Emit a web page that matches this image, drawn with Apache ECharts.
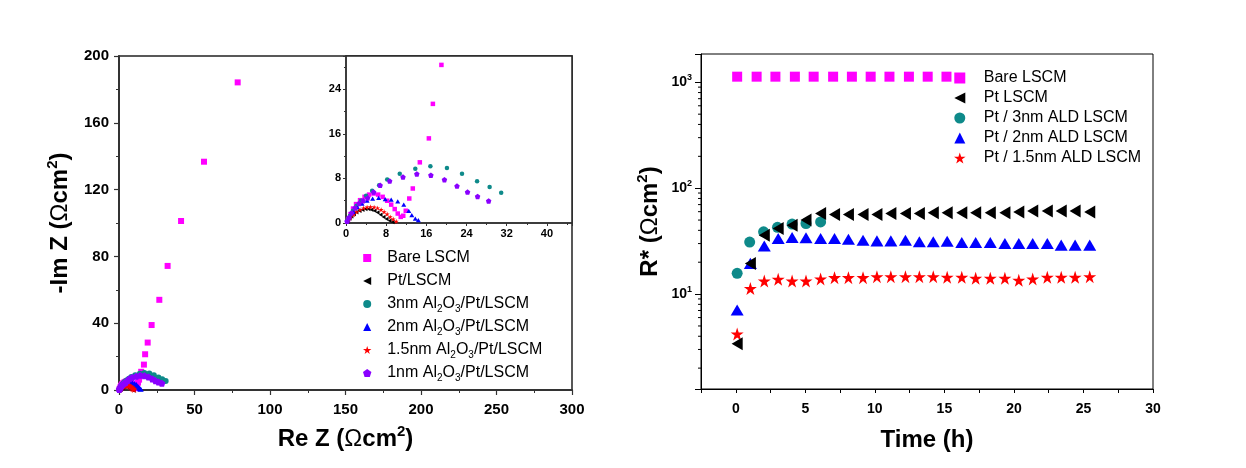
<!DOCTYPE html>
<html><head><meta charset="utf-8">
<script src="https://cdn.jsdelivr.net/npm/echarts@6/dist/echarts.min.js"></script>
<style>html,body{margin:0;padding:0;background:#fff}#c{width:1246px;height:468px}</style>
</head><body><div id="c"></div>
<script>
// ---------- Left panel: Nyquist data [Re Z, -Im Z] ----------
const nyqBare = [[0.4,0.6],[0.9,1.6],[1.4,2.6],[2.0,3.4],[2.8,4.1],[3.7,4.7],[4.6,5.1],[5.5,5.3],[6.4,5.1],[7.3,4.7],[8.2,4.0],[9.0,3.3],[9.7,2.5],[10.3,1.7],[10.9,1.1],[11.4,1.3],[11.9,2.2],[12.6,4.4],[13.3,6.2],[14.7,10.9],[16.5,15.2],[17.3,21.4],[19.0,28.4],[21.6,38.9],[26.7,54],[32.2,74.3],[41.1,101.2],[56.3,136.7],[78.6,184.2]];
const nyqPt = [[0.3,0.3],[0.7,0.8],[1.1,1.2],[1.6,1.6],[2.1,1.95],[2.7,2.2],[3.3,2.4],[3.9,2.5],[4.5,2.5],[5.1,2.4],[5.7,2.2],[6.3,1.9],[6.9,1.5],[7.5,1.1],[8.1,0.7],[8.7,0.4],[9.3,0.2]];
const nyq3nm = [[0.3,0.5],[0.8,1.3],[1.4,2.2],[2.1,3.1],[3.0,4.0],[4.0,4.9],[5.2,5.8],[6.6,6.8],[8.2,7.8],[10.7,8.85],[13.8,9.75],[16.8,10.2],[20.1,9.86],[23.1,8.85],[26.1,7.5],[28.6,6.46],[30.9,5.44]];
const nyq2nm = [[0.3,0.4],[0.8,1.2],[1.5,2.0],[2.3,2.8],[3.2,3.5],[4.2,4.0],[5.3,4.4],[6.5,4.5],[7.8,4.3],[9.0,4.2],[10.3,3.9],[11.5,3.3],[12.5,2.2],[13.1,1.4],[13.8,0.8],[14.4,0.5]];
const nyq15nm = [[0.4,0.4],[0.9,1.0],[1.5,1.5],[2.1,2.0],[2.8,2.4],[3.5,2.7],[4.2,2.85],[4.9,2.9],[5.6,2.85],[6.3,2.7],[7.0,2.4],[7.6,2.0],[8.2,1.6],[8.8,1.1],[9.4,0.7],[10.0,0.3]];
const nyq1nm = [[0.2,0.3],[0.6,1.0],[1.1,1.8],[1.8,2.7],[2.6,3.5],[3.4,4.0],[4.3,4.5],[5.5,5.56],[6.8,6.76],[8.7,7.53],[11.35,8.25],[14.1,8.8],[16.9,8.6],[19.6,7.77],[22.1,6.64],[24.2,5.56],[26.2,4.78],[28.4,3.97]];
const leftNames = ['Bare LSCM','Pt/LSCM','3nm Al2O3/Pt/LSCM','2nm Al2O3/Pt/LSCM','1.5nm Al2O3/Pt/LSCM','1nm Al2O3/Pt/LSCM'];

// ---------- Right panel: R* vs time ----------
const timeBare = [0.1,1.5,2.85,4.25,5.6,7.0,8.35,9.7,11.05,12.45,13.8,15.15];
const rBare = [1130,1130,1130,1130,1130,1130,1130,1130,1130,1130,1130,1130];
const timeAll = [0.1,1.05,2.05,3.05,4.05,5.05,6.1,7.1,8.1,9.15,10.15,11.15,12.2,13.2,14.2,15.2,16.25,17.25,18.3,19.35,20.35,21.35,22.4,23.4,24.4,25.45];
const rPt = [3.4,19.5,36,41.7,44.6,50,57.7,56.5,56.5,56.5,56.5,57.7,57.7,57.7,58.5,58.5,58.5,58.5,58.5,58.5,59.7,61,61,61,61,59.7];
const time3nm = [0.1,1.0,2.0,3.0,4.05,5.05,6.1];
const r3nm = [15.7,31,38.7,42.7,45.8,46.4,48];
const r2nm = [7.07,19.5,28.4,33.5,34.3,34,33.5,33.5,33,32.3,31.8,31.8,32.3,31.2,31.2,31.5,30.7,30.7,30.7,30,30,30,30,29,29,29];
const r15nm = [4.2,11.3,13.3,13.8,13.3,13.3,13.9,14.3,14.3,14.3,14.6,14.6,14.6,14.6,14.6,14.4,14.4,14.1,14.1,14.1,13.5,13.9,14.4,14.4,14.4,14.6];
const rightNames = ['Bare LSCM','Pt LSCM','Pt / 3nm ALD LSCM','Pt / 2nm ALD LSCM','Pt / 1.5nm ALD LSCM'];
const logMinorTicks = [2,3,4,5,6,7,8,9,20,30,40,50,60,70,80,90,200,300,400,500,600,700,800,900];

const zip = (a,b) => a.map((v,i)=>[v,b[i]]);
const FF = "'Liberation Sans', Arial, sans-serif";
const SQ = 'path://M0,0L100,0L100,100L0,100Z';
const TRI_L = 'path://M0,50L100,0L100,100Z';
const TRI_U = 'path://M50,0L100,100L0,100Z';
const CIRC = 'circle';
const STAR = 'path://M50,0L61.2,34.5L97.6,34.5L68.2,55.9L79.4,90.5L50,69.1L20.6,90.5L31.8,55.9L2.4,34.5L38.8,34.5Z';
const PENT = 'path://M50,0L97.6,34.5L79.4,90.5L20.6,90.5L2.4,34.5Z';
const C = {bare:'#ff00ff', pt:'#000000', n3:'#0e8a8a', n2:'#0000ff', n15:'#ff0000', n1:'#8a00ff'};
const sym = {bare:SQ, pt:TRI_L, n3:CIRC, n2:TRI_U, n15:STAR, n1:PENT};
const symSize = (key, s) => key==='pt' ? [s*0.85, s] : (key==='n2' ? [s, s*0.85] : s);

const titleRich = {
  b:{fontSize:24,fontWeight:'bold',fontFamily:FF,color:'#000',lineHeight:30},
  o:{fontSize:24,fontWeight:'normal',fontFamily:FF,color:'#000',lineHeight:30},
  sup:{fontSize:15,fontWeight:'bold',fontFamily:FF,color:'#000',lineHeight:15,verticalAlign:'top'}
};
const titleText = (pre) => '{b|' + pre + ' (}{o|Ω}{b|cm}{sup|2}{b|)}';
const tickLbl = (sz) => ({fontSize:sz,fontWeight:'bold',color:'#000',fontFamily:FF});

function axisBase(grid, lw, col){
  return {
    gridIndex:grid, type:'value',
    axisLine:{show:true,onZero:false,lineStyle:{color:col,width:lw}},
    axisTick:{show:true,inside:false,length:5,lineStyle:{color:col,width:1.2}},
    minorTick:{show:true,splitNumber:2,length:3,lineStyle:{color:col,width:1}},
    splitLine:{show:false}
  };
}

function nyqSeries(name, data, key, xi, size){
  return {type:'scatter', name, data, xAxisIndex:xi, yAxisIndex:xi,
    symbol:sym[key], symbolSize:symSize(key,size),
    itemStyle:{color:C[key], opacity:1}, clip:true, silent:true};
}
const leftData = [[nyqBare,'bare'],[nyqPt,'pt'],[nyq3nm,'n3'],[nyq2nm,'n2'],[nyq15nm,'n15'],[nyq1nm,'n1']];
const mainSizes = {bare:6,pt:6,n3:6,n2:6,n15:7,n1:7};
const insetSizes = {bare:4.5,pt:4.5,n3:4.5,n2:5,n15:5,n1:5.5};

const series = [];
leftData.forEach((d,i)=>series.push(nyqSeries(leftNames[i], d[0], d[1], 0, mainSizes[d[1]])));
leftData.forEach((d,i)=>series.push(nyqSeries(leftNames[i], d[0], d[1], 1, insetSizes[d[1]])));

function rSeries(name, data, key, size){
  return {type:'scatter', name, data, xAxisIndex:2, yAxisIndex:2,
    symbol:sym[key], symbolSize:symSize(key,size),
    itemStyle:{color:C[key],opacity:1}, silent:true};
}
series.push(rSeries(rightNames[0], zip(timeBare,rBare), 'bare', 10));
series.push(rSeries(rightNames[2], zip(time3nm,r3nm), 'n3', 11));
series.push(rSeries(rightNames[3], zip(timeAll,r2nm), 'n2', 13));
series.push(rSeries(rightNames[4], zip(timeAll,r15nm), 'n15', 13));
series.push(rSeries(rightNames[1], zip(timeAll,rPt), 'pt', 13));
series.push({type:'custom', xAxisIndex:2, yAxisIndex:2, silent:true, clip:false, z:5,
  data: logMinorTicks.map(v=>[-2.5,v]),
  renderItem:(params, api)=>{
    const p = api.coord([api.value(0), api.value(1)]);
    return {type:'line', shape:{x1:p[0]-3,y1:p[1],x2:p[0],y2:p[1]}, style:{stroke:'#000',lineWidth:1}};
  }});

const isPow10 = v => { const l = Math.log10(v); return Math.abs(l-Math.round(l))<1e-6; };
const keys = ['bare','pt','n3','n2','n15','n1'];
const leftLegendData = leftNames.map((n,i)=>({name:n, icon:sym[keys[i]]}));
const rightKeys = ['bare','pt','n3','n2','n15'];
const rightLegendData = rightNames.map((n,i)=>({name:n, icon:sym[rightKeys[i]]}));

const option = {
  backgroundColor:'#fff',
  animation:false,
  grid:[
    {left:119, top:56, width:453, height:334, show:true, borderColor:'#222', borderWidth:1.5, backgroundColor:'rgba(0,0,0,0)', outerBoundsMode:'none'},
    {left:346, top:56, width:226, height:167, show:true, borderColor:'#222', borderWidth:1.5, backgroundColor:'#fff', outerBoundsMode:'none'},
    {left:701, top:54, width:452, height:335, show:true, borderColor:'#000', borderWidth:1, backgroundColor:'rgba(0,0,0,0)', outerBoundsMode:'none'}
  ],
  xAxis:[
    Object.assign(axisBase(0,2,'#333'), {min:0,max:300,interval:50,
      axisLabel:Object.assign(tickLbl(15),{margin:12}),
      name:titleText('Re Z'), nameLocation:'middle', nameGap:34, nameTextStyle:{rich:titleRich}}),
    Object.assign(axisBase(1,1.5,'#333'), {min:0,max:45,interval:8,
      axisTick:{show:true,length:3,lineStyle:{color:'#333',width:1}},
      minorTick:{show:true,splitNumber:2,length:2,lineStyle:{color:'#333',width:1}},
      axisLabel:Object.assign(tickLbl(11),{margin:5,formatter:v=>(v%8===0?String(v):'')})}),
    Object.assign(axisBase(2,1,'#000'), {min:-2.5,max:30,interval:2.5,
      axisTick:{show:true,length:4,lineStyle:{color:'#000',width:1}},
      minorTick:{show:false},
      axisLabel:Object.assign(tickLbl(14),{margin:13,formatter:v=>(Math.abs(v%5)<1e-9?String(v):'')}),
      name:'{b|Time (h)}', nameLocation:'middle', nameGap:36, nameTextStyle:{rich:titleRich}})
  ],
  yAxis:[
    Object.assign(axisBase(0,2,'#333'), {min:0,max:200,interval:40,
      axisLabel:Object.assign(tickLbl(15),{margin:10}),
      name:titleText('-Im Z'), nameLocation:'middle', nameGap:44, nameRotate:90, nameTextStyle:{rich:titleRich}}),
    Object.assign(axisBase(1,1.5,'#333'), {min:0,max:30,interval:8,
      axisTick:{show:true,length:3,lineStyle:{color:'#333',width:1}},
      minorTick:{show:true,splitNumber:2,length:2,lineStyle:{color:'#333',width:1}},
      axisLabel:Object.assign(tickLbl(11),{margin:5,formatter:v=>(v%8===0?String(v):'')})}),
    {gridIndex:2, type:'log', logBase:10, min:1.27, max:1850,
      axisLine:{show:true,onZero:false,lineStyle:{color:'#000',width:1}},
      axisTick:{show:true,inside:false,length:6,lineStyle:{color:'#000',width:1}},
      minorTick:{show:false}, splitLine:{show:false},
      axisLabel:{margin:9, formatter:v=>{ if(!isPow10(v)) return ''; return '{b|10}{s|'+Math.round(Math.log10(v))+'}'; },
        rich:{b:{fontSize:14,fontWeight:'bold',fontFamily:FF,color:'#000',lineHeight:18},
              s:{fontSize:9,fontWeight:'bold',fontFamily:FF,color:'#000',lineHeight:9,verticalAlign:'top'}}},
      name:'{b|R* (}{o|Ω}{b|cm}{sup|2}{b|)}', nameLocation:'middle', nameGap:36, nameRotate:90, nameTextStyle:{rich:titleRich}}
  ],
  legend:[
    {data:leftLegendData, left:358, top:243, orient:'vertical', itemWidth:30, itemHeight:8, itemGap:3,
     selectedMode:false, symbolKeepAspect:true,
     formatter:n=>n.replace('Al2O3','Al{s|2}O{s|3}'),
     textStyle:{fontSize:16,color:'#000',fontFamily:FF,lineHeight:20,
       rich:{s:{fontSize:10,fontFamily:FF,color:'#000',lineHeight:10,verticalAlign:'bottom'}}}},
    {data:rightLegendData, left:949, top:65, orient:'vertical', itemWidth:38, itemHeight:11, itemGap:4,
     selectedMode:false, symbolKeepAspect:true,
     textStyle:{fontSize:16,color:'#000',fontFamily:FF,lineHeight:16}}
  ],
  series
};
const chart = echarts.init(document.getElementById('c'), null, {renderer:'canvas'});
chart.setOption(option);
</script></body></html>
